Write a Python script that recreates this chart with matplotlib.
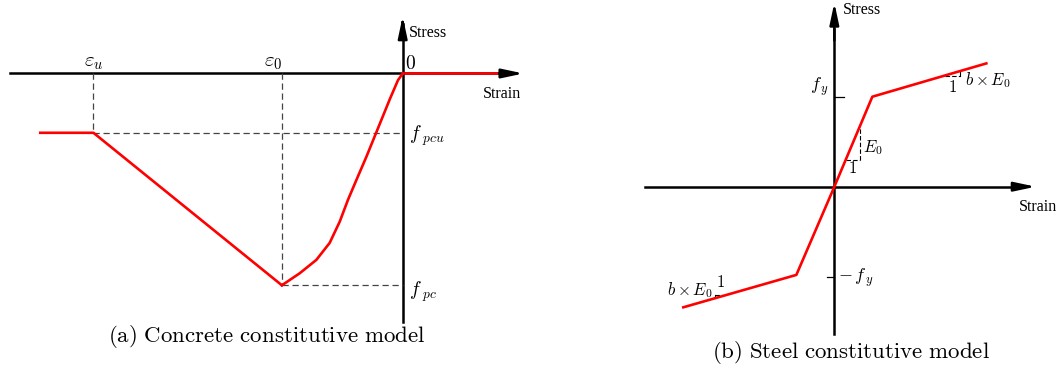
import numpy as np
import matplotlib
matplotlib.use('Agg')
import matplotlib.pyplot as plt

plt.rcParams['mathtext.fontset'] = 'cm'
plt.rcParams['font.family'] = ['Liberation Serif', 'DejaVu Serif']

# concrete (strain in per mille, stress in MPa, compression negative)
eps_0, eps_u = -2.0, -5.12
f_pc, f_pcu = -30.0, -8.4
conc_rise_strain = [0.0, -0.078, -0.215, -0.435, -0.601, -0.767, -0.906,
                    -1.043, -1.209, -1.429, -1.705, eps_0]
conc_rise_stress = [0.0, -0.95, -3.68, -8.31, -11.8, -15.1, -17.9,
                    -21.0, -24.0, -26.4, -28.3, f_pc]
conc_soft_strain = [eps_0, eps_u, -6.0]
conc_soft_stress = [f_pc, f_pcu, f_pcu]
conc_tens_strain = [0.0, 1.85]
conc_tens_stress = [0.0, 0.0]

# steel bilinear (strain in per mille, stress in MPa)
steel_strain = [-7.95, -2.0, 0.0, 2.0, 8.0]
steel_stress = [-536, -392, 0, 400, 548]
f_y = 400

RED = '#ff0000'
arrow_kw = dict(arrowstyle='-|>,head_length=0.8,head_width=0.17',
                color='k', lw=1.8, mutation_scale=16, shrinkA=0, shrinkB=0)
dash_kw = dict(color='#444444', lw=0.9, ls=(0, (5, 3)))

fig = plt.figure(figsize=(10.61, 3.69), dpi=100)

# ---- (a) concrete ----
ax = fig.add_axes([0, 0, 530 / 1061, 1])
ax.set_xlim(-6.667, 2.108)
ax.set_ylim(-41.86, 10.41)
ax.axis('off')

ax.plot([-6.5, 1.7], [0, 0], color='k', lw=1.8, zorder=1)
ax.plot([0, 0], [-35.2, 7.0], color='k', lw=1.8, zorder=1)
ax.plot(conc_tens_strain, conc_tens_stress, color=RED, lw=1.9, zorder=3)
ax.annotate('', xy=(2.0, 0), xytext=(1.6, 0), arrowprops=arrow_kw, zorder=4)
ax.annotate('', xy=(0, 8.1), xytext=(0, 6.5), arrowprops=arrow_kw, zorder=4)

ax.plot([eps_u, eps_u], [0, f_pcu], **dash_kw)
ax.plot([eps_u, 0], [f_pcu, f_pcu], **dash_kw)
ax.plot([eps_0, eps_0], [0, f_pc], **dash_kw)
ax.plot([eps_0, 0], [f_pc, f_pc], **dash_kw)

ax.plot(conc_rise_strain, conc_rise_stress, color=RED, lw=1.9, zorder=3,
        solid_joinstyle='round')
ax.plot(conc_soft_strain, conc_soft_stress, color=RED, lw=1.9, zorder=3)

ax.text(eps_u, 1.5, r'$\varepsilon_u$', fontsize=15, ha='center', va='center')
ax.text(eps_0 - 0.14, 1.5, r'$\varepsilon_0$', fontsize=15, ha='center', va='center')
ax.text(0.04, 1.3, r'$0$', fontsize=14, ha='left', va='center')
ax.text(0.1, 5.7, 'Stress', fontsize=11.5, ha='left', va='center')
ax.text(1.33, -2.9, 'Strain', fontsize=11.5, ha='left', va='center')
ax.text(0.11, f_pcu - 0.45, r'$f_{\ pcu}$', fontsize=14, ha='left', va='center')
ax.text(0.11, f_pc - 0.9, r'$f_{\ pc}$', fontsize=14, ha='left', va='center')

fig.text(267 / 1061, 1 - 337 / 369, r'$\mathrm{(a)\ Concrete\ constitutive\ model}$',
         fontsize=16.5, ha='center', va='center')

# ---- (b) steel ----
ax = fig.add_axes([640 / 1061, 0, 421 / 1061, 1])
ax.set_xlim(-10.23, 11.93)
ax.set_ylim(-810.2, 829.8)
ax.axis('off')

ax.plot([-9.96, 10.0], [0, 0], color='k', lw=1.8, zorder=1)
ax.plot([0, 0], [-656, 700], color='k', lw=1.8, zorder=1)
ax.annotate('', xy=(10.6, 0), xytext=(9.6, 0), arrowprops=arrow_kw, zorder=4)
ax.annotate('', xy=(0, 818), xytext=(0, 650), arrowprops=arrow_kw, zorder=4)

ax.plot(steel_strain, steel_stress, color=RED, lw=1.9, zorder=3)

# yield ticks
ax.plot([0, 0.51], [f_y, f_y], color='k', lw=0.9)
ax.plot([-0.4, 0], [-f_y, -f_y], color='k', lw=0.9)
ax.text(-0.76, f_y + 43, r'$f_{\,y}$', fontsize=13, ha='center', va='center')
ax.text(0.2, -f_y - 5, r'$-\,f_{\,y}$', fontsize=13, ha='left', va='center')

# slope triangle on elastic branch
tx0, tx1 = 0.6, 1.35
ty0, ty1 = np.interp([tx0, tx1], steel_strain, steel_stress)
ax.plot([tx1, tx1], [ty0, ty1], color='k', lw=0.8, ls=(0, (4, 2)))
ax.plot([tx0, tx1], [ty0, ty0], color='k', lw=0.8, ls=(0, (4, 2)))
ax.text(1.5, 172, r'$E_0$', fontsize=12, ha='left', va='center')
ax.text(0.95, 80, r'$1$', fontsize=12, ha='center', va='center')

# slope triangle on upper hardening branch
ux0, ux1 = 5.82, 6.61
uy0, uy1 = np.interp([ux0, ux1], steel_strain, steel_stress)
ax.plot([ux0, ux1], [uy0, uy0], color='k', lw=0.8, ls=(0, (4, 2)))
ax.plot([ux1, ux1], [uy0, uy1], color='k', lw=0.8)
ax.text(6.2, uy0 - 55, r'$1$', fontsize=12, ha='center', va='center')
ax.text(6.88, uy0 - 20, r'$b\times E_0$', fontsize=12, ha='left', va='center')

# slope triangle on lower hardening branch
lx0, lx1 = -6.3, -5.7
ly0, ly1 = np.interp([lx0, lx1], steel_strain, steel_stress)
ax.plot([lx0, lx0], [ly0, ly1], color='k', lw=0.8)
ax.plot([lx0, lx1], [ly1, ly1], color='k', lw=0.8, ls=(0, (4, 2)))
ax.text(-6.0, ly1 + 55, r'$1$', fontsize=12, ha='center', va='center')
ax.text(-6.4, ly1 + 20, r'$b\times E_0$', fontsize=12, ha='right', va='center')

ax.text(0.45, 785, 'Stress', fontsize=11.5, ha='left', va='center')
ax.text(9.7, -89, 'Strain', fontsize=11.5, ha='left', va='center')

fig.text(851 / 1061, 1 - 352 / 369, r'$\mathrm{(b)\ Steel\ constitutive\ model}$',
         fontsize=16.5, ha='center', va='center')

fig.savefig('out.png', dpi=100)
